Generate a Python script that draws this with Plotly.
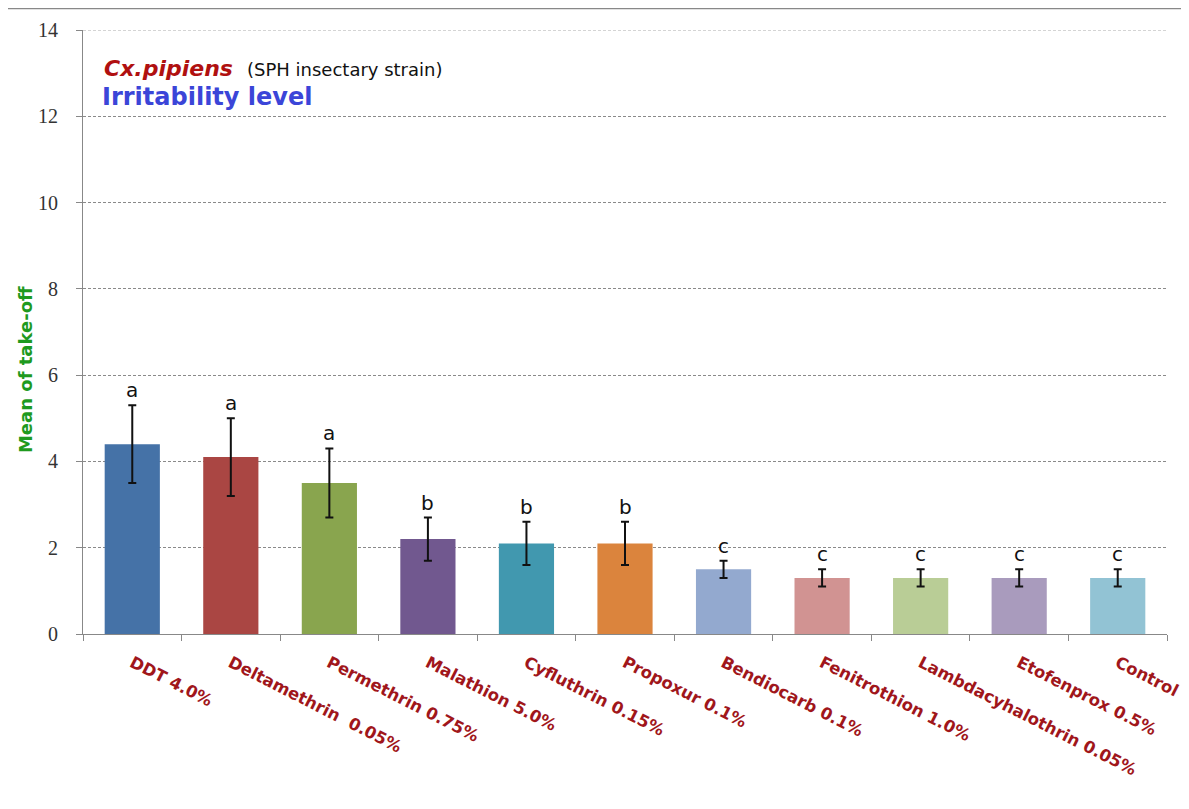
import plotly.graph_objects as go

categories = ["DDT 4.0%", "Deltamethrin  0.05%", "Permethrin 0.75%", "Malathion 5.0%",
              "Cyfluthrin 0.15%", "Propoxur 0.1%", "Bendiocarb 0.1%", "Fenitrothion 1.0%",
              "Lambdacyhalothrin 0.05%", "Etofenprox 0.5%", "Control"]
means = [4.4, 4.1, 3.5, 2.2, 2.1, 2.1, 1.5, 1.3, 1.3, 1.3, 1.3]
errors = [0.9, 0.9, 0.8, 0.5, 0.5, 0.5, 0.2, 0.2, 0.2, 0.2, 0.2]
letters = ["a", "a", "a", "b", "b", "b", "c", "c", "c", "c", "c"]
colors = ["#4572A7", "#AA4643", "#89A54E", "#71588F", "#4198AF", "#DB843D",
          "#93A9CF", "#D19392", "#B9CD96", "#A99BBD", "#92C3D4"]
y_ticks = [0, 2, 4, 6, 8, 10, 12, 14]

fig = go.Figure()
fig.add_trace(go.Bar(
    x=categories, y=means,
    marker=dict(color=colors, line=dict(width=0)),
    error_y=dict(type="data", array=errors, visible=True, color="#111111",
                 thickness=2, width=4),
    showlegend=False,
))

for c, m, e, l in zip(categories, means, errors, letters):
    fig.add_annotation(x=c, y=m + e, text=l, showarrow=False, yanchor="bottom",
                       yshift=1, font=dict(family="DejaVu Sans", size=20, color="#111111"))

fig.add_annotation(xref="paper", yref="paper", x=0.0175, y=0.937, xanchor="left",
                   yanchor="middle", showarrow=False,
                   text="<b><i>Cx.pipiens</i></b>",
                   font=dict(family="DejaVu Sans", size=22, color="#B01010"))
fig.add_annotation(xref="paper", yref="paper", x=0.149, y=0.935, xanchor="left",
                   yanchor="middle", showarrow=False,
                   text="(SPH insectary strain)",
                   font=dict(family="DejaVu Sans", size=18, color="#111111"))
fig.add_annotation(xref="paper", yref="paper", x=0.0157, y=0.889, xanchor="left",
                   yanchor="middle", showarrow=False,
                   text="<b>Irritability level</b>",
                   font=dict(family="DejaVu Sans", size=24, color="#3B45D8"))
fig.add_annotation(xref="paper", yref="paper", x=-0.0535, y=0.437, xanchor="center",
                   yanchor="middle", showarrow=False, textangle=-90,
                   text="<b>Mean of take-off</b>",
                   font=dict(family="DejaVu Sans", size=18, color="#1E9A1E"))

fig.add_shape(type="line", xref="paper", yref="paper", x0=-0.075, x1=1.03,
              y0=1.036, y1=1.036, line=dict(color="#888888", width=2))
fig.add_shape(type="line", xref="paper", yref="y", x0=0, x1=1, y0=14, y1=14,
              line=dict(color="#d4d4d4", width=2, dash="3px,2px"))

fig.update_layout(
    width=1189, height=809,
    margin=dict(l=75, r=30, t=22, b=183),
    paper_bgcolor="white", plot_bgcolor="white",
    bargap=0.44,
    xaxis=dict(
        tickangle=27, tickfont=dict(family="DejaVu Sans", size=16.5, color="#A0161B", weight="bold"),
        ticklabelstandoff=12,
        showline=True, linecolor="#888888", linewidth=1,
        ticks="outside", tickson="boundaries", ticklen=6, tickcolor="#888888",
        showgrid=False, automargin=False,
    ),
    yaxis=dict(
        range=[0, 14], tickvals=y_ticks, ticktext=[str(v) for v in y_ticks],
        tickfont=dict(family="Liberation Serif", size=20, color="#333333"),
        ticklabelstandoff=14,
        showline=True, linecolor="#888888", linewidth=1,
        ticks="outside", ticklen=6, tickcolor="#888888",
        showgrid=True, gridcolor="#8a8a8a", griddash="3px,2px", gridwidth=1,
        zeroline=False, automargin=False,
    ),
)

fig.write_html("out.html")
